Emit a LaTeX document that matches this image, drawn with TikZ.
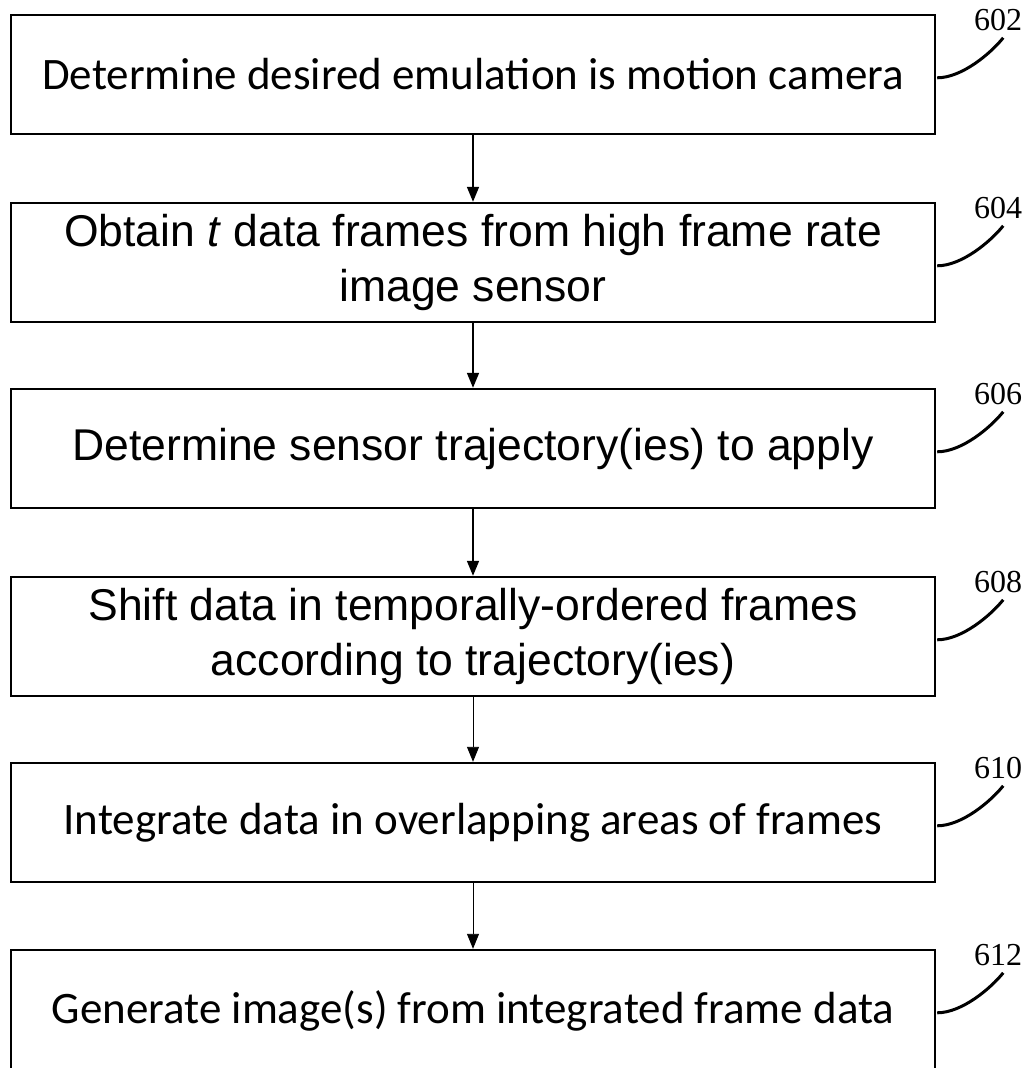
\documentclass[tikz,border=0pt]{standalone}
\usepackage{fontspec}
\setmainfont{Liberation Serif}
\newfontfamily\calib{Carlito}
\newfontfamily\arial{Liberation Sans}
\usetikzlibrary{arrows.meta}
\begin{document}
\begin{tikzpicture}[x=1pt,y=-1pt,
 box/.style={draw, line width=2.4pt, minimum width=924pt, minimum height=119pt, inner sep=0pt, align=center},
 cal/.style={font=\calib\fontsize{45}{54}\selectfont},
 ari/.style={font=\arial\fontsize{44.5}{55}\selectfont},
 flow/.style={line width=1.6pt, -{Triangle[length=15pt,width=12pt]}},
 thinflow/.style={line width=0.9pt, -{Triangle[length=15pt,width=12pt]}},
 ref/.style={font=\fontsize{32}{32}\selectfont, inner sep=0pt},
 lead/.style={line width=3pt}]
\useasboundingbox (0,0) rectangle (1032,1068);
\node[box,cal] (b1) at (473,74.5) {Determine desired emulation is motion camera};
\node[box,ari] (b2) at (473,262.5) {Obtain \textit{t} data frames from high frame rate\\image sensor};
\node[box,ari] (b3) at (473,448.5) {Determine sensor trajectory(ies) to apply};
\node[box,ari] (b4) at (473,636.5) {Shift data in temporally-ordered frames\\according to trajectory(ies)};
\node[box,cal] (b5) at (473,822.5) {Integrate data in overlapping areas of frames};
\node[box,cal,minimum height=122pt] (b6) at (473,1011) {Generate image(s) from integrated frame data};
\draw[flow] (b1) -- (b2);
\draw[flow] (b2) -- (b3);
\draw[flow] (b3) -- (b4);
\draw[thinflow] (b4) -- (b5);
\draw[thinflow] (b5) -- (b6);
\foreach \i/\n in {1/602,2/604,3/606,4/608,5/610,6/612}{
  \node[ref] (r\i) at ([xshift=62pt,yshift=-6pt]b\i.north east) {\n};
  \coordinate (s\i) at ([xshift=1pt,yshift=-64pt]b\i.north east);
  \coordinate (e\i) at ([xshift=67pt,yshift=-24pt]b\i.north east);
  \draw[lead] (s\i) .. controls +(25,0) and +(-12,15) .. (e\i);
}
\end{tikzpicture}
\end{document}
